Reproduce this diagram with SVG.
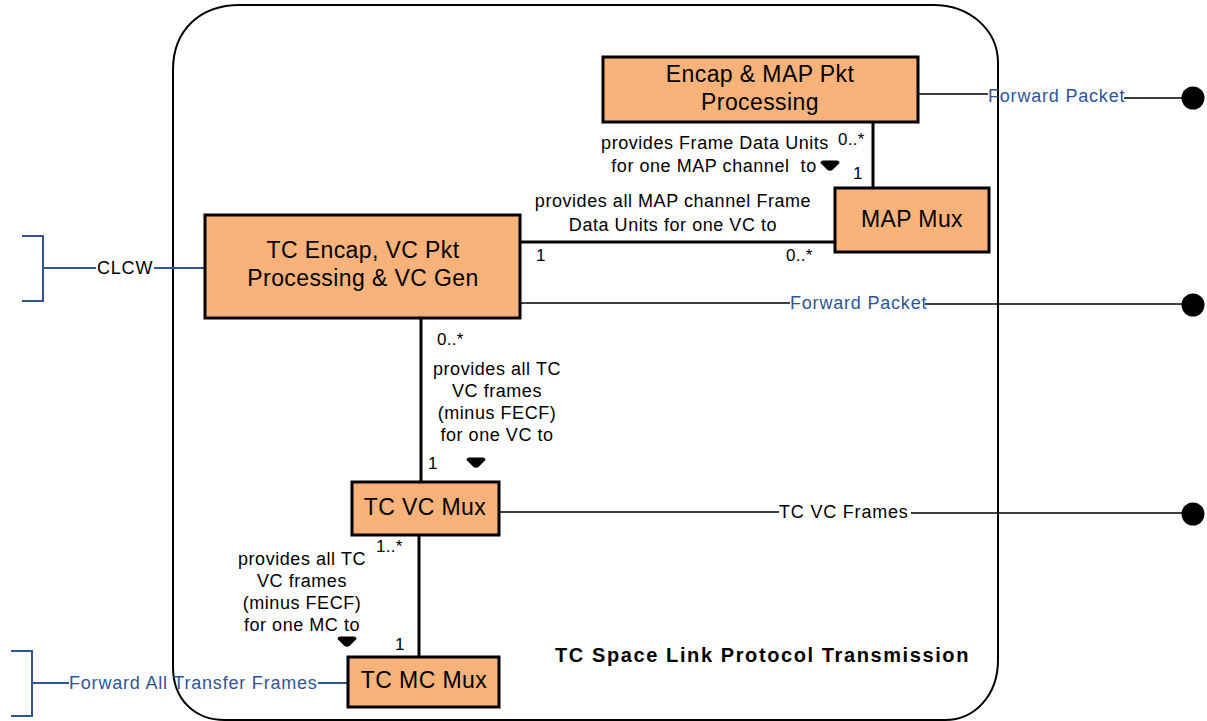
<svg xmlns="http://www.w3.org/2000/svg" width="1207" height="721" viewBox="0 0 1207 721">
<style>
text{font-family:"Liberation Sans",Arial,sans-serif;}
.node rect{fill:#F8B27A;stroke:#000;stroke-width:3;}
.nt{font-size:23px;letter-spacing:0.4px;fill:#000;text-anchor:middle;}
.lb{font-size:18px;letter-spacing:0.55px;fill:#000;text-anchor:middle;}
.m{font-size:17px;letter-spacing:0.3px;fill:#000;}
.bl{font-size:18px;letter-spacing:0.8px;fill:#2F5597;}
.blk{font-size:18px;letter-spacing:0.8px;fill:#000;}
.assoc{stroke:#000;stroke-width:3;fill:none;}
.iface{stroke:#000;stroke-width:1.5;fill:none;}
.bif{stroke:#2F5597;stroke-width:2;fill:none;}
.title{font-size:20px;font-weight:bold;letter-spacing:1.6px;fill:#000;}
</style>
<defs>
<path id="dir" d="M-9.5,-3 Q-9.5,-5.5 -6.5,-5.5 L6.5,-5.5 Q9.5,-5.5 9.5,-3 L3,3.5 Q0,6 -3,3.5 Z" fill="#000"/>
</defs>

<g id="container">
<path d="M173,70 C173,30 200,5 240,5 L933,5 C970,5 998,30 998,63 L998,660 C998,695 975,720 945,720 L225,720 C195,720 173,700 173,667 Z" fill="none" stroke="#000" stroke-width="2"/>
<text class="title" x="555" y="662">TC Space Link Protocol Transmission</text>
</g>

<g id="connectors">
<line class="assoc" x1="873" y1="122" x2="873" y2="188"/>
<line class="assoc" x1="520" y1="242" x2="835" y2="242"/>
<line class="assoc" x1="421" y1="318" x2="421" y2="482"/>
<line class="assoc" x1="419" y1="535" x2="419" y2="657"/>

<path class="iface" d="M918,94 L988,94 M1124,98 L1182,98"/>
<circle cx="1193" cy="98" r="11.5" fill="#000"/>
<path class="iface" d="M520,303 L790,303 M925,304 L1182,304"/>
<circle cx="1193" cy="305" r="11.5" fill="#000"/>
<path class="iface" d="M499,512 L779,512 M911,513 L1182,513"/>
<circle cx="1193" cy="514" r="11.5" fill="#000"/>

<path class="bif" d="M22,236 L43,236 L43,301 L22,301 M43,268 L96,268 M154,268 L205,268"/>
<path class="bif" d="M11,651 L32,651 L32,716 L11,716 M32,683 L69,683 M318,683 L348,683"/>

<text class="bl" x="988" y="102">Forward Packet</text>
<text class="bl" x="790" y="309">Forward Packet</text>
<text class="blk" x="779" y="518">TC VC Frames</text>
<text class="blk" x="97" y="274">CLCW</text>
<text class="bl" x="69" y="689">Forward All Transfer Frames</text>

<text class="lb" x="715" y="149">provides Frame Data Units</text>
<text class="lb" x="714" y="172" xml:space="preserve">for one MAP channel  to</text>
<use href="#dir" x="830" y="166"/>
<text class="m" x="838" y="145" font-size="16">0..*</text>
<text class="m" x="853" y="179">1</text>

<text class="lb" x="673" y="207">provides all MAP channel Frame</text>
<text class="lb" x="673" y="231">Data Units for one VC to</text>
<text class="m" x="536" y="261">1</text>
<text class="m" x="786" y="261">0..*</text>

<text class="m" x="437" y="345">0..*</text>
<text class="lb" x="497" y="375">provides all TC</text>
<text class="lb" x="497" y="397">VC frames</text>
<text class="lb" x="497" y="419">(minus FECF)</text>
<text class="lb" x="497" y="441">for one VC to</text>
<text class="m" x="428" y="469">1</text>
<use href="#dir" x="476" y="463"/>

<text class="m" x="376" y="552" font-size="16">1..*</text>
<text class="lb" x="302" y="565">provides all TC</text>
<text class="lb" x="302" y="587">VC frames</text>
<text class="lb" x="302" y="609">(minus FECF)</text>
<text class="lb" x="302" y="631">for one MC to</text>
<use href="#dir" x="347" y="642"/>
<text class="m" x="395" y="650">1</text>
</g>

<g id="encap-map" class="node">
<rect x="603" y="57" width="315" height="65"/>
<text class="nt" x="760" y="82">Encap &amp; MAP Pkt</text>
<text class="nt" x="760" y="110">Processing</text>
</g>
<g id="map-mux" class="node">
<rect x="835" y="188" width="154" height="64"/>
<text class="nt" x="912" y="227">MAP Mux</text>
</g>
<g id="tc-encap" class="node">
<rect x="205" y="215" width="315" height="103"/>
<text class="nt" x="363" y="258">TC Encap, VC Pkt</text>
<text class="nt" x="363" y="286">Processing &amp; VC Gen</text>
</g>
<g id="tc-vc-mux" class="node">
<rect x="352" y="482" width="147" height="53"/>
<text class="nt" x="425" y="515">TC VC Mux</text>
</g>
<g id="tc-mc-mux" class="node">
<rect x="348" y="657" width="151" height="50"/>
<text class="nt" x="424" y="688">TC MC Mux</text>
</g>
</svg>
